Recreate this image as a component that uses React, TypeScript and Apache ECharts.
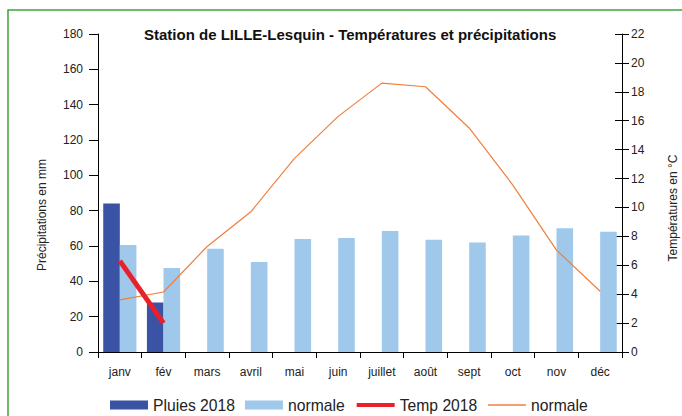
import React, { useEffect, useRef } from "react";
import * as echarts from "echarts";

const months = ["janv", "fév", "mars", "avril", "mai", "juin", "juillet", "août", "sept", "oct", "nov", "déc"];
const pluies2018 = [84, 28, null, null, null, null, null, null, null, null, null, null];
const pluiesNormale = [60.5, 47.5, 58.5, 51, 64, 64.5, 68.5, 63.5, 62, 66, 70, 68];
const temp2018 = [6.3, 2.0, null, null, null, null, null, null, null, null, null, null];
const tempNormale = [3.6, 4.15, 7.3, 9.7, 13.4, 16.3, 18.6, 18.35, 15.5, 11.55, 7.05, 4.2];
const precipAxis = { min: 0, max: 180, interval: 20 };
const tempAxis = { min: 0, max: 22, interval: 2 };

const FONT = "'Liberation Sans', Arial, sans-serif";

export default function App() {
  const ref = useRef<HTMLDivElement>(null);
  useEffect(() => {
    if (!ref.current) return;
    const chart = echarts.init(ref.current, undefined, { renderer: "svg" });
    const axisLine = { show: true, lineStyle: { color: "#000", width: 1 } };
    const label = { color: "#222", fontSize: 12, fontFamily: FONT };
    const hiddenSymbol = { color: "rgba(0,0,0,0)", borderColor: "rgba(0,0,0,0)", borderWidth: 0 };
    chart.setOption({
      animation: false,
      backgroundColor: "#fff",
      textStyle: { fontFamily: FONT },
      title: {
        text: "Station de LILLE-Lesquin - Températures et précipitations",
        left: 144,
        top: 27,
        padding: 0,
        textStyle: { fontSize: 15, fontWeight: "bold", color: "#111", fontFamily: FONT },
      },
      grid: { left: 98, right: 60, top: 34, bottom: 64 },
      legend: {
        left: 110,
        top: 397,
        padding: 0,
        itemWidth: 38,
        itemHeight: 9,
        itemGap: 10,
        textStyle: { fontSize: 15.7, color: "#222", fontFamily: FONT },
        formatter: (name: string) => (name.indexOf("normale") === 0 ? "normale" : name),
        data: [
          { name: "Pluies 2018", icon: "rect" },
          { name: "normale (pluies)", icon: "rect" },
          { name: "Temp 2018", lineStyle: { width: 4 }, itemStyle: hiddenSymbol },
          { name: "normale (temp)", lineStyle: { width: 1.5 }, itemStyle: hiddenSymbol },
        ],
      },
      xAxis: {
        type: "category",
        data: months,
        axisLine,
        axisTick: { show: true, length: 6, lineStyle: { color: "#000" } },
        axisLabel: { ...label, margin: 14 },
        splitLine: { show: false },
      },
      yAxis: [
        {
          type: "value",
          position: "left",
          ...precipAxis,
          axisLine,
          axisTick: { show: true, length: 9, lineStyle: { color: "#000" } },
          axisLabel: { ...label, margin: 15 },
          splitLine: { show: false },
        },
        {
          type: "value",
          position: "right",
          ...tempAxis,
          axisLine,
          axisTick: { show: true, length: 7, lineStyle: { color: "#000" } },
          axisLabel: { ...label, margin: 9 },
          splitLine: { show: false },
        },
        {
          type: "value",
          position: "right",
          ...tempAxis,
          axisLine: { show: false },
          axisTick: { show: true, inside: true, length: 7, lineStyle: { color: "#000" } },
          axisLabel: { show: false },
          splitLine: { show: false },
        },
      ],
      series: [
        {
          name: "Pluies 2018",
          type: "bar",
          yAxisIndex: 0,
          data: pluies2018,
          barWidth: "38%",
          barGap: "0%",
          itemStyle: { color: "#3a53a4" },
        },
        {
          name: "normale (pluies)",
          type: "bar",
          yAxisIndex: 0,
          data: pluiesNormale,
          barWidth: "38%",
          barGap: "0%",
          itemStyle: { color: "#9fc8ea" },
        },
        {
          name: "Temp 2018",
          type: "line",
          yAxisIndex: 1,
          data: temp2018,
          symbol: "none",
          lineStyle: { color: "#e8202a", width: 5 },
          itemStyle: { color: "#e8202a" },
          z: 4,
        },
        {
          name: "normale (temp)",
          type: "line",
          yAxisIndex: 1,
          data: tempNormale,
          symbol: "none",
          lineStyle: { color: "#f07f3c", width: 1.2 },
          itemStyle: { color: "#f07f3c" },
          z: 3,
        },
      ],
      graphic: [
        {
          type: "rect",
          shape: { x: 8, y: 10, width: 700, height: 430 },
          style: { fill: "none", stroke: "#3ea43e", lineWidth: 1.5 },
          silent: true,
        },
        {
          type: "text",
          x: 41.5,
          y: 215,
          rotation: Math.PI / 2,
          style: { text: "Précipitations en mm", fontSize: 12, fill: "#222", align: "center", verticalAlign: "middle", fontFamily: FONT },
        },
        {
          type: "text",
          x: 673,
          y: 208,
          rotation: Math.PI / 2,
          style: { text: "Températures en °C", fontSize: 12, fill: "#222", align: "center", verticalAlign: "middle", fontFamily: FONT },
        },
      ],
    });
    return () => chart.dispose();
  }, []);
  return <div ref={ref} style={{ position: "absolute", left: 0, top: 0, width: 682, height: 416 }} />;
}
